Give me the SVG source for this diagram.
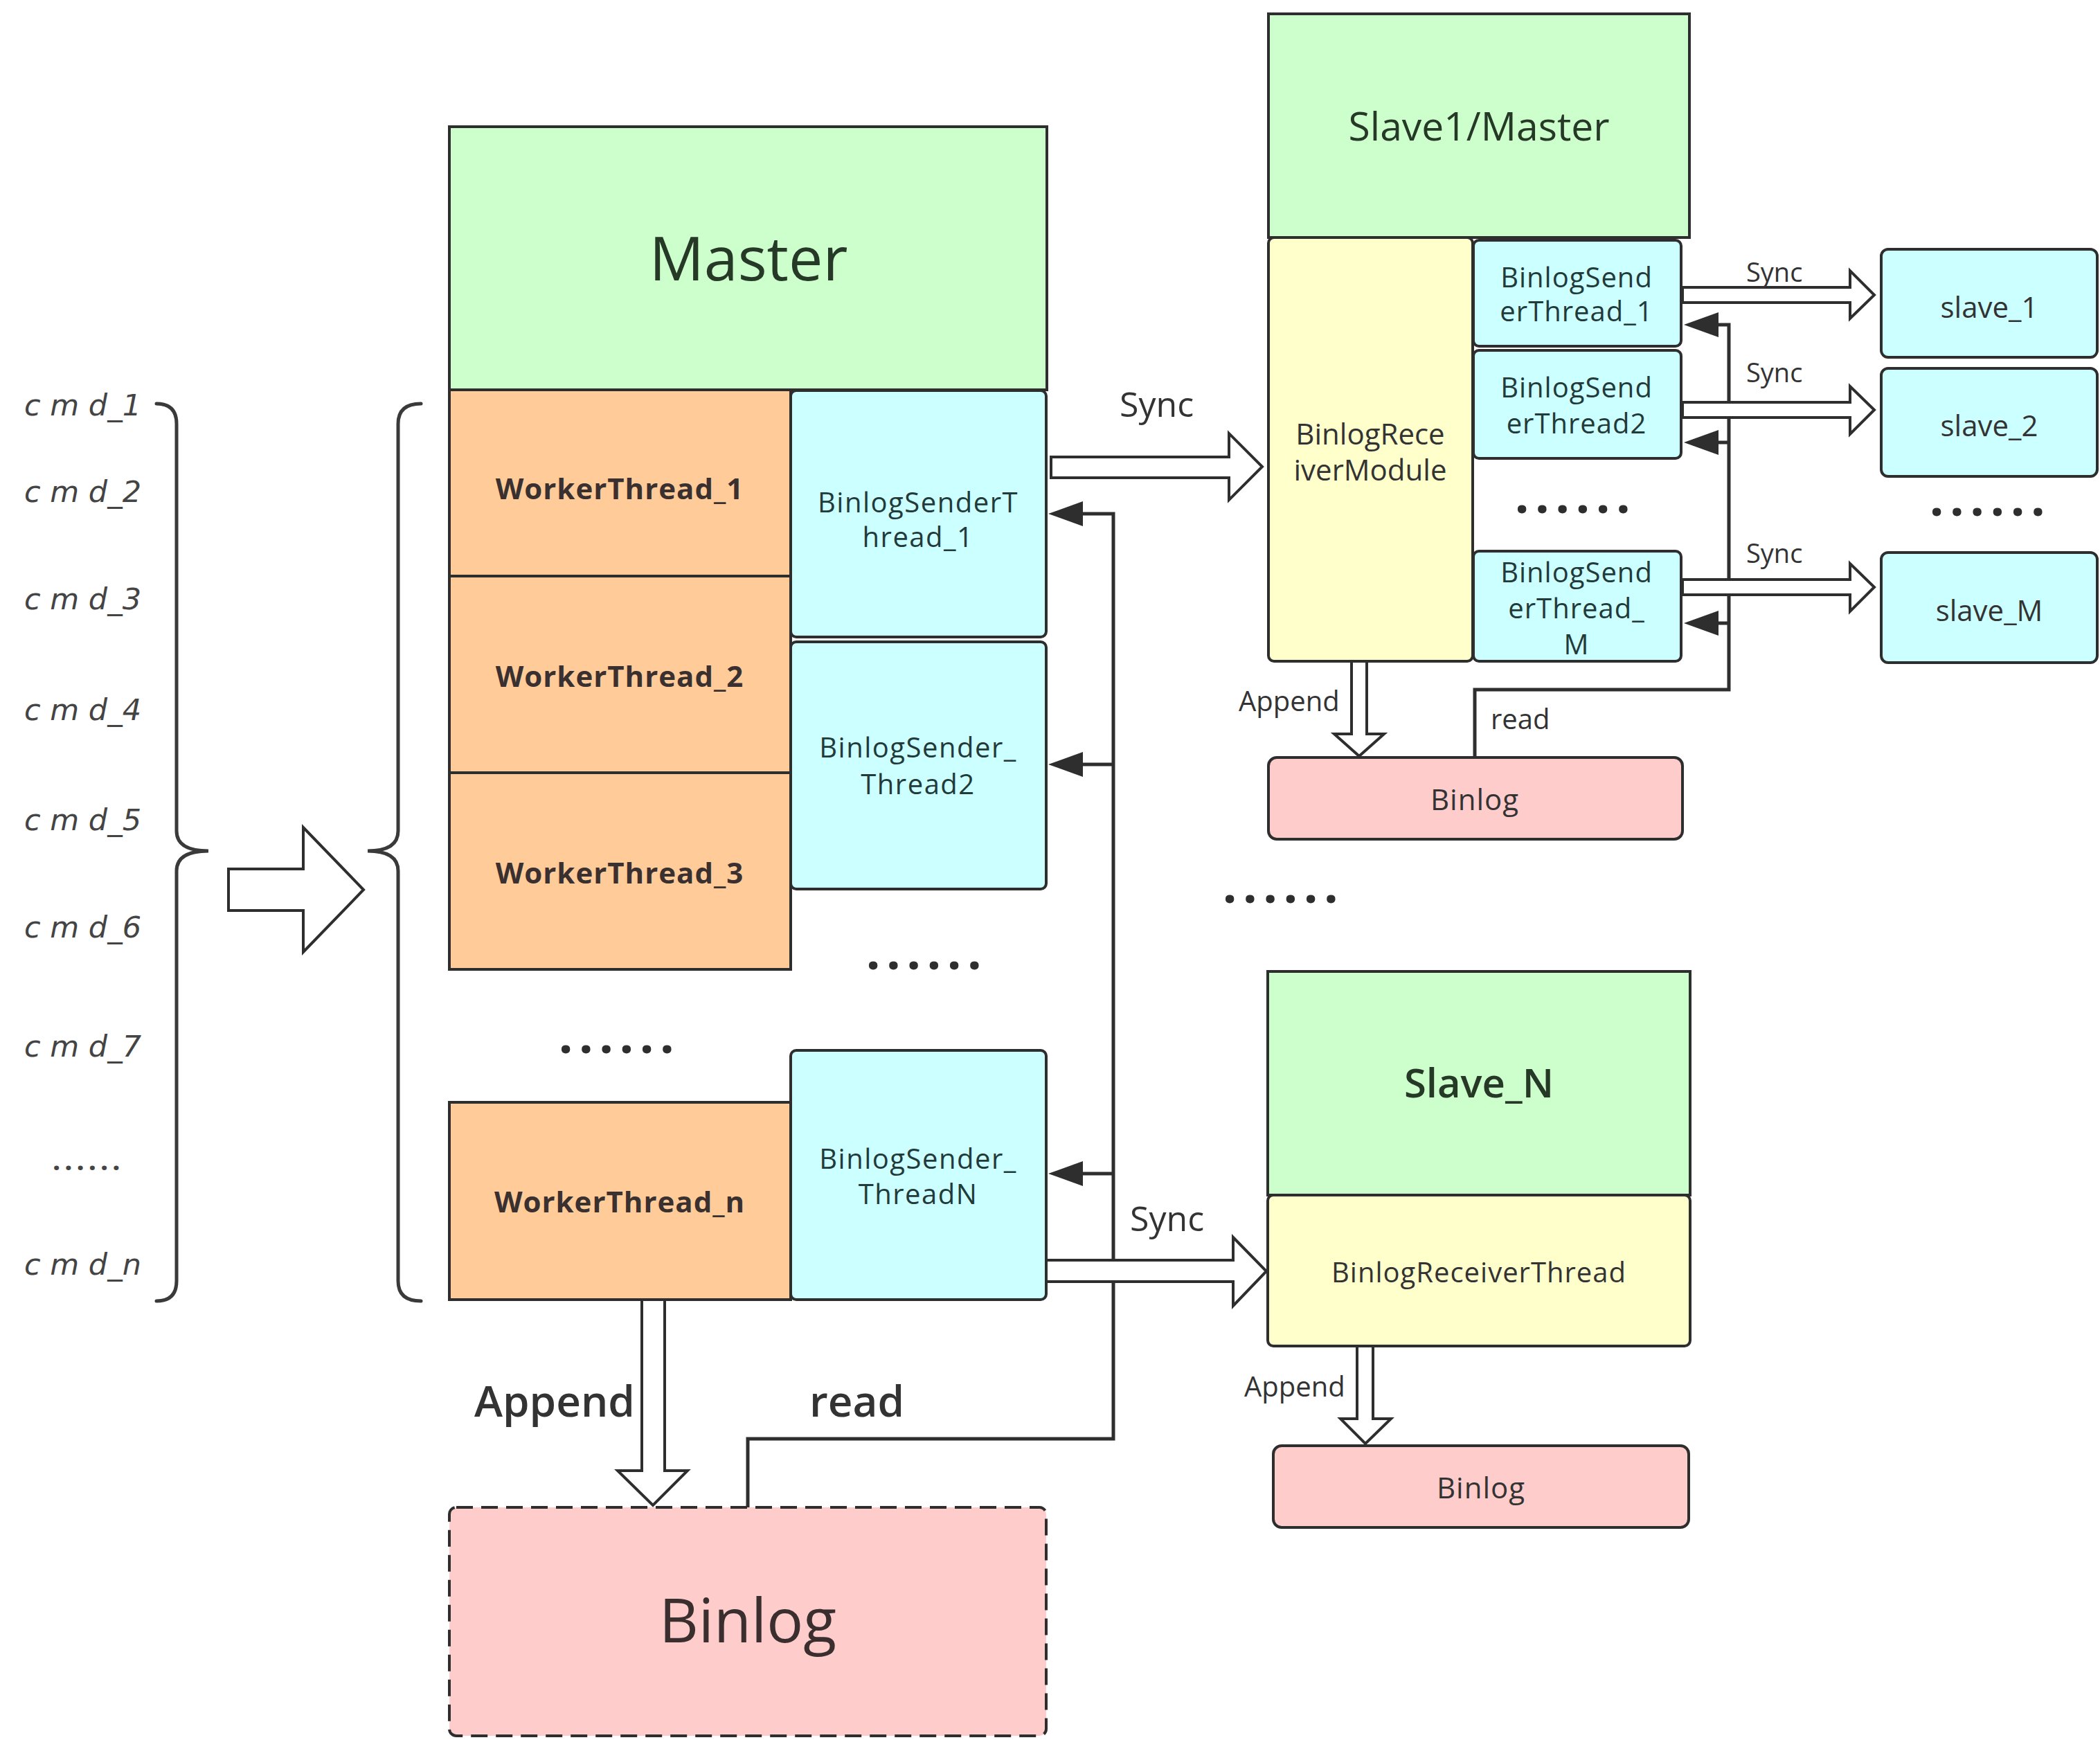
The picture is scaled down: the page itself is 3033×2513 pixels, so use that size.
<svg xmlns="http://www.w3.org/2000/svg" width="3033" height="2513" viewBox="0 0 3033 2513">
<style>
  .box { stroke: #2e2e2e; stroke-width: 4; }
  .green { fill: #ccffcc; }
  .orange { fill: #ffcc99; }
  .cyan { fill: #ccffff; }
  .yellow { fill: #ffffcc; }
  .pink { fill: #ffcccc; }
  .t { font-family: "Open Sans", "Noto Sans", "Liberation Sans", sans-serif; fill: #333; text-anchor: middle; }
  .tl { font-family: "Open Sans", "Noto Sans", "Liberation Sans", sans-serif; fill: #333; }
  .wt { font-size: 42px; font-weight: bold; letter-spacing: 1px; fill: #3a3030; }
  .bs { font-size: 40px; letter-spacing: 1.5px; fill: #223a3a; }
  .cmd { font-family: "DejaVu Sans", "Verdana", sans-serif; font-style: italic; font-size: 43px; fill: #444; }
  .dots { font-family: "Noto Sans", "Open Sans", sans-serif; font-weight: bold; font-size: 72px; letter-spacing: 9px; fill: #2e2e2e; }
  .hollow { fill: #ffffff; stroke: #2e2e2e; stroke-width: 4; stroke-linejoin: miter; }
  .line { fill: none; stroke: #2e2e2e; stroke-width: 5; }
  .brace { fill: none; stroke: #3a3a3a; stroke-width: 5; stroke-linecap: round; }
  .head { fill: #2e2e2e; }
</style>

<!-- command list -->
<g id="cmds">
  <text class="cmd" x="35" y="600">c m d_1</text>
  <text class="cmd" x="35" y="725">c m d_2</text>
  <text class="cmd" x="35" y="880">c m d_3</text>
  <text class="cmd" x="35" y="1040">c m d_4</text>
  <text class="cmd" x="35" y="1199">c m d_5</text>
  <text class="cmd" x="35" y="1354">c m d_6</text>
  <text class="cmd" x="35" y="1526">c m d_7</text>
  <text class="dots" x="76" y="1690" style="font-size:40px;letter-spacing:6px;fill:#444">......</text>
  <text class="cmd" x="35" y="1841">c m d_n</text>
  <path class="brace" d="M226,583 Q255,583 255,612 L255,1200 Q255,1229 301,1229 Q255,1229 255,1258 L255,1850 Q255,1879 226,1879"/>
  <path class="brace" d="M608,583 Q575,583 575,612 L575,1200 Q575,1229 531,1229 Q575,1229 575,1258 L575,1850 Q575,1879 608,1879"/>
</g>

<!-- Master -->
<g id="master">
  <rect class="box green" x="649" y="183" width="863" height="380"/>
  <text class="t" x="1081" y="405" style="font-size:88px;fill:#263826">Master</text>
</g>
<g id="worker1">
  <rect class="box orange" x="649" y="563" width="493" height="269"/>
  <text class="t wt" x="895" y="721">WorkerThread_1</text>
</g>
<g id="worker2">
  <rect class="box orange" x="649" y="832" width="493" height="284"/>
  <text class="t wt" x="895" y="992">WorkerThread_2</text>
</g>
<g id="worker3">
  <rect class="box orange" x="649" y="1116" width="493" height="284"/>
  <text class="t wt" x="895" y="1276">WorkerThread_3</text>
</g>
<g id="workern">
  <rect class="box orange" x="649" y="1592" width="493" height="285"/>
  <text class="t wt" x="895" y="1751">WorkerThread_n</text>
</g>
<g id="sender1">
  <rect class="box cyan" x="1142" y="564" width="369" height="356" rx="8"/>
  <text class="t bs" x="1326" y="740">BinlogSenderT</text>
  <text class="t bs" x="1326" y="790">hread_1</text>
</g>
<g id="sender2">
  <rect class="box cyan" x="1142" y="927" width="369" height="357" rx="8"/>
  <text class="t bs" x="1326" y="1094">BinlogSender_</text>
  <text class="t bs" x="1326" y="1147">Thread2</text>
</g>
<g id="sendern">
  <rect class="box cyan" x="1142" y="1517" width="369" height="360" rx="8"/>
  <text class="t bs" x="1326" y="1688">BinlogSender_</text>
  <text class="t bs" x="1326" y="1739">ThreadN</text>
</g>
<text class="dots" x="1251" y="1400">......</text>
<text class="dots" x="807" y="1521">......</text>

<g id="binlog-main">
  <rect class="box pink" x="649" y="2177" width="862" height="330" rx="10" style="stroke-dasharray:24 12"/>
  <text class="t" x="1080" y="2372" style="font-size:88px;fill:#3a2e2e">Binlog</text>
</g>

<!-- Slave1/Master -->
<g id="slave1master">
  <rect class="box green" x="1832" y="20" width="608" height="323"/>
  <text class="t" x="2136" y="203" style="font-size:57px;font-weight:500;fill:#263826">Slave1/Master</text>
</g>
<g id="receiver-module">
  <rect class="box yellow" x="1832" y="343" width="295" height="612" rx="8"/>
  <text class="t" x="1979" y="642" style="font-size:42px">BinlogRece</text>
  <text class="t" x="1979" y="694" style="font-size:42px">iverModule</text>
</g>
<g id="st1">
  <rect class="box cyan" x="2128" y="347" width="300" height="153" rx="8"/>
  <text class="t bs" x="2277" y="415" style="letter-spacing:1px">BinlogSend</text>
  <text class="t bs" x="2277" y="464" style="letter-spacing:1px">erThread_1</text>
</g>
<g id="st2">
  <rect class="box cyan" x="2128" y="506" width="300" height="156" rx="8"/>
  <text class="t bs" x="2277" y="574" style="letter-spacing:1px">BinlogSend</text>
  <text class="t bs" x="2277" y="626" style="letter-spacing:1px">erThread2</text>
</g>
<g id="stm">
  <rect class="box cyan" x="2128" y="796" width="300" height="159" rx="8"/>
  <text class="t bs" x="2277" y="841" style="letter-spacing:1px">BinlogSend</text>
  <text class="t bs" x="2277" y="893" style="letter-spacing:1px">erThread_</text>
  <text class="t bs" x="2277" y="945" style="letter-spacing:1px">M</text>
</g>
<text class="dots" x="2188" y="741">......</text>
<g id="slave_1">
  <rect class="box cyan" x="2717" y="360" width="312" height="156" rx="10"/>
  <text class="t" x="2873" y="459" style="font-size:42px">slave_1</text>
</g>
<g id="slave_2">
  <rect class="box cyan" x="2717" y="532" width="312" height="156" rx="10"/>
  <text class="t" x="2873" y="630" style="font-size:42px">slave_2</text>
</g>
<text class="dots" x="2787" y="745">......</text>
<g id="slave_m">
  <rect class="box cyan" x="2717" y="798" width="312" height="159" rx="10"/>
  <text class="t" x="2873" y="897" style="font-size:42px">slave_M</text>
</g>
<g id="binlog1">
  <rect class="box pink" x="1832" y="1094" width="598" height="118" rx="12"/>
  <text class="t" x="2130" y="1170" style="font-size:42px;letter-spacing:1px">Binlog</text>
</g>

<text class="dots" x="1766" y="1304">......</text>

<!-- Slave_N -->
<g id="slaven">
  <rect class="box green" x="1831" y="1403" width="610" height="323"/>
  <text class="t" x="2136" y="1585" style="font-size:58px;font-weight:600;fill:#263826">Slave_N</text>
</g>
<g id="receiver-thread">
  <rect class="box yellow" x="1831" y="1726" width="610" height="218" rx="8"/>
  <text class="t" x="2136" y="1852" style="font-size:40px;letter-spacing:1px">BinlogReceiverThread</text>
</g>
<g id="binlog2">
  <rect class="box pink" x="1839" y="2088" width="600" height="118" rx="12"/>
  <text class="t" x="2139" y="2164" style="font-size:42px;letter-spacing:1px">Binlog</text>
</g>

<!-- connectors -->
<g id="connectors">
  <!-- cmds to master -->
  <polygon class="hollow" points="330,1255 438,1255 438,1195 525,1285 438,1375 438,1315 330,1315"/>

  <!-- master read line -->
  <polyline class="line" points="1080,2177 1080,2078 1608,2078 1608,742 1560,742"/>
  <line class="line" x1="1608" y1="1104" x2="1560" y2="1104"/>
  <line class="line" x1="1608" y1="1695" x2="1560" y2="1695"/>
  <polygon class="head" points="1514,742 1564,724 1564,760"/>
  <polygon class="head" points="1514,1104 1564,1086 1564,1122"/>
  <polygon class="head" points="1514,1695 1564,1677 1564,1713"/>

  <!-- master sync to slave1 -->
  <polygon class="hollow" points="1518,660 1775,660 1775,626 1823,674 1775,722 1775,690 1518,690"/>
  <!-- master sync to slaveN -->
  <polygon class="hollow" points="1511,1820 1781,1820 1781,1787 1829,1836 1781,1886 1781,1851 1511,1851"/>

  <!-- master append -->
  <polygon class="hollow" points="927,1877 960,1877 960,2124 993,2124 943,2174 892,2124 927,2124"/>

  <!-- slave1 read line -->
  <polyline class="line" points="2130,1094 2130,996 2497,996 2497,469 2478,469"/>
  <line class="line" x1="2497" y1="639" x2="2478" y2="639"/>
  <line class="line" x1="2497" y1="900" x2="2478" y2="900"/>
  <polygon class="head" points="2432,469 2482,451 2482,487"/>
  <polygon class="head" points="2432,639 2482,621 2482,657"/>
  <polygon class="head" points="2432,900 2482,882 2482,918"/>

  <!-- slave1 sync arrows -->
  <polygon class="hollow" points="2430,415 2672,415 2672,391 2707,426 2672,460 2672,437 2430,437"/>
  <polygon class="hollow" points="2430,581 2672,581 2672,558 2707,592 2672,627 2672,603 2430,603"/>
  <polygon class="hollow" points="2430,837 2672,837 2672,814 2707,848 2672,883 2672,859 2430,859"/>

  <!-- slave1 append -->
  <polygon class="hollow" points="1952,955 1974,955 1974,1060 1999,1060 1963,1092 1927,1060 1952,1060"/>
  <!-- slaveN append -->
  <polygon class="hollow" points="1960,1944 1983,1944 1983,2049 2009,2049 1972,2085 1936,2049 1960,2049"/>

  <!-- labels -->
  <text class="tl" x="1617" y="602" style="font-size:50px">Sync</text>
  <text class="tl" x="1632" y="1778" style="font-size:50px">Sync</text>
  <text class="tl" x="685" y="2046" style="font-size:62px;font-weight:600">Append</text>
  <text class="tl" x="1169" y="2046" style="font-size:62px;font-weight:600">read</text>
  <text class="tl" x="2522" y="407" style="font-size:38px">Sync</text>
  <text class="tl" x="2522" y="552" style="font-size:38px">Sync</text>
  <text class="tl" x="2522" y="813" style="font-size:38px">Sync</text>
  <text class="tl" x="1789" y="1027" style="font-size:40px">Append</text>
  <text class="tl" x="2153" y="1053" style="font-size:40px">read</text>
  <text class="tl" x="1797" y="2017" style="font-size:40px">Append</text>
</g>
</svg>
